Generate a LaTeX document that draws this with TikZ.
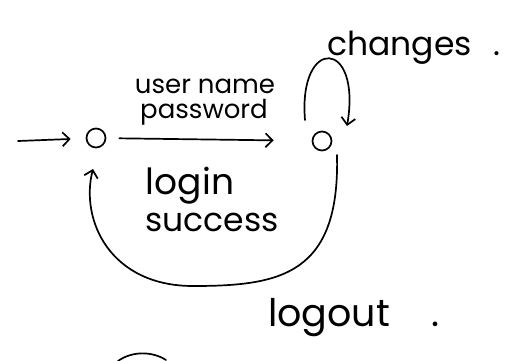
\documentclass[tikz,border=0pt]{standalone}
\usepackage{fontspec}
\setmainfont{Poppins}
\usetikzlibrary{arrows.meta}
\tikzset{
  pen/.style={line width=1.7pt, line cap=round, line join=round},
  arr/.style={pen, -{Straight Barb[length=7pt,width=14pt,line width=1.7pt]}},
  state/.style={circle, draw, pen, minimum size=19pt, inner sep=0pt},
  hand/.style={inner sep=0pt, font=\fontsize{26}{26}\selectfont},
}
\begin{document}
\begin{tikzpicture}[x=1pt,y=-1pt]
\useasboundingbox (0,0) rectangle (506,360);
\node[state] (s1) at (96,138) {};
\node[state] (s2) at (322,141) {};
\coordinate (init) at (18,141);
\draw[arr, shorten >=15pt] (init) -- (s1);
\draw[arr, shorten <=13pt, shorten >=38pt] (s1) -- (s2);
\draw[arr] ([shift={(-17,-21)}]s2.center) .. controls (298,36) and (362,38) .. ([shift={(25,-15)}]s2.center);
\draw[arr] ([shift={(15,14)}]s2.center) .. controls (340,275) and (280,286) .. (193,286) .. controls (110,286) and (80,220) .. ([shift={(-3,31)}]s1.center);
\node[hand] (t1) at (205,86) {user name};
\node[hand] (t2) at (204,112) {password};
\node[hand, font=\fontsize{36}{36}\selectfont] (t3) at (190,186) {login};
\node[hand, font=\fontsize{33}{33}\selectfont] (t4) at (212,222) {success};
\node[hand, font=\fontsize{33}{33}\selectfont] (t5) at (414,48) {changes\hspace{22pt}.};
\node[hand, font=\fontsize{38}{38}\selectfont] (t6) at (354,318) {logout\hspace{42pt}.};
\draw[pen] (118,361) .. controls (132,351) and (152,351) .. (166,360);
\end{tikzpicture}
\end{document}
